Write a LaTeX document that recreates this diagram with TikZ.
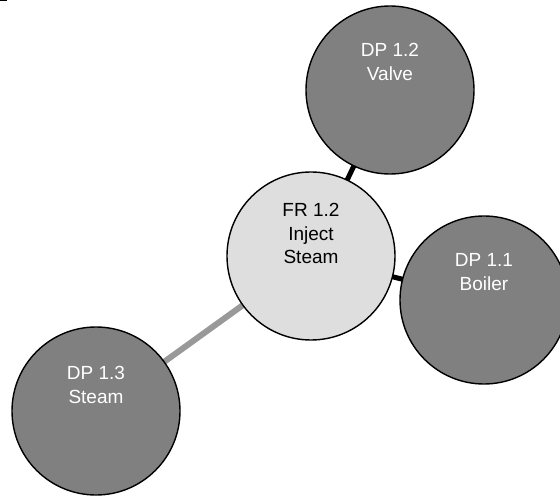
\documentclass[tikz,border=0pt]{standalone}
\usepackage{fontspec}
\setmainfont{Liberation Sans}
\begin{document}
\begin{tikzpicture}[x=1pt,y=-1pt,
  dpcircle/.style={circle, draw=black, line width=1.4pt, fill=dpgray, minimum size=168pt, inner sep=0pt},
  frcircle/.style={circle, draw=black, line width=1.4pt, fill=frgray, minimum size=168pt, inner sep=0pt},
  dptext/.style={text=white, font=\fontsize{19}{23.5}\selectfont, align=center, inner sep=0pt, anchor=north},
  frtext/.style={text=black, font=\fontsize{19}{23.5}\selectfont, align=center, inner sep=0pt, anchor=north},
  darklink/.style={line width=5pt, draw=black},
  lightlink/.style={line width=6pt, draw=linkgray}]
\definecolor{dpgray}{HTML}{808080}
\definecolor{frgray}{HTML}{DEDEDE}
\definecolor{linkgray}{HTML}{999999}
\useasboundingbox (0,0) rectangle (560,497);
\clip (0,0) rectangle (560,497);
\fill[white] (0,0) rectangle (560,497);
% circles centres
\coordinate (cfr) at (311,256);
\coordinate (cvalve) at (390,90);
\coordinate (cboiler) at (484,300);
\coordinate (csteam) at (96,411);
% connectors (behind)
\draw[darklink] (cfr) -- (cvalve);
\draw[darklink] (cfr) -- (cboiler);
\draw[lightlink] (cfr) -- (csteam);
% circles
\node[frcircle] (fr) at (cfr) {};
\node[dpcircle] (valve) at (cvalve) {};
\node[dpcircle] (boiler) at (cboiler) {};
\node[dpcircle] (steam) at (csteam) {};
% texts
\node[frtext] (frt) at ([yshift=52.6pt]fr.center) {FR 1.2\\Inject\\Steam};
\node[dptext] (valvet) at ([yshift=46.6pt]valve.center) {DP 1.2\\Valve};
\node[dptext] (boilert) at ([yshift=46.6pt]boiler.center) {DP 1.1\\Boiler};
\node[dptext] (steamt) at ([yshift=44.6pt]steam.center) {DP 1.3\\Steam};
% small mark at top-left
\draw[line width=1.5pt, black] (0,0.75) -- (7,0.75);
\end{tikzpicture}
\end{document}
